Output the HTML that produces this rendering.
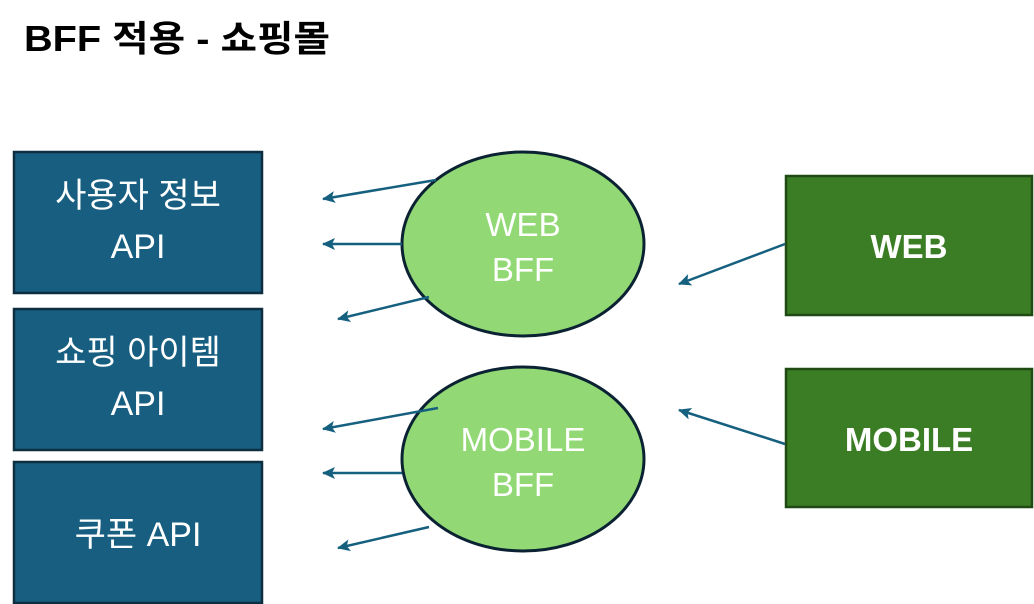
<!DOCTYPE html>
<html><head><meta charset="utf-8"><style>
html,body{margin:0;padding:0;background:#fff;}
svg{display:block;}
text{font-family:"Liberation Sans","Noto Sans CJK KR",sans-serif;}
</style></head><body>
<svg width="1034" height="604" viewBox="0 0 1034 604" xmlns="http://www.w3.org/2000/svg">
<defs>
<marker id="a" markerWidth="14" markerHeight="14" refX="12" refY="6" orient="auto" markerUnits="userSpaceOnUse">
<path d="M0,0 L13,6 L0,12 L3,6 Z" fill="#16607f"/>
</marker>
</defs>
<text x="24" y="51" font-size="36" font-weight="bold" fill="#000" textLength="306" lengthAdjust="spacingAndGlyphs">BFF 적용 - 쇼핑몰</text>

<g fill="#175e80" stroke="#0d2d40" stroke-width="2.5">
<rect x="14" y="152" width="248" height="141"/>
<rect x="14" y="309" width="248" height="141"/>
<rect x="14" y="462" width="248" height="141"/>
</g>
<g fill="#fff" font-size="34" text-anchor="middle">
<text x="138" y="207">사용자 정보</text>
<text x="138" y="258">API</text>
<text x="138" y="364">쇼핑 아이템</text>
<text x="138" y="415">API</text>
<text x="138" y="546">쿠폰 API</text>
</g>

<g fill="#3b7d24" stroke="#1f4a13" stroke-width="2.5">
<rect x="786" y="176" width="246" height="139"/>
<rect x="786" y="369" width="246" height="138"/>
</g>
<g fill="#fff" font-size="33" font-weight="bold" text-anchor="middle">
<text x="909" y="258">WEB</text>
<text x="909" y="451">MOBILE</text>
</g>

<g fill="#92d975" stroke="#0b2233" stroke-width="3">
<ellipse cx="523" cy="244" rx="121" ry="92"/>
<ellipse cx="523" cy="459" rx="121" ry="92"/>
</g>
<g fill="#fff" font-size="33" text-anchor="middle">
<text x="523" y="236">WEB</text>
<text x="523" y="281">BFF</text>
<text x="523" y="451">MOBILE</text>
<text x="523" y="496">BFF</text>
</g>

<g stroke="#16607f" stroke-width="2.5" marker-end="url(#a)">
<line x1="436" y1="180" x2="323" y2="199"/>
<line x1="402" y1="244" x2="323" y2="244"/>
<line x1="429" y1="297" x2="338" y2="319"/>
<line x1="438" y1="408" x2="323" y2="429"/>
<line x1="402" y1="473" x2="323" y2="473"/>
<line x1="429" y1="527" x2="338" y2="548"/>
<line x1="785" y1="244" x2="679" y2="284"/>
<line x1="785" y1="444" x2="679" y2="410"/>
</g>
</svg>
</body></html>
